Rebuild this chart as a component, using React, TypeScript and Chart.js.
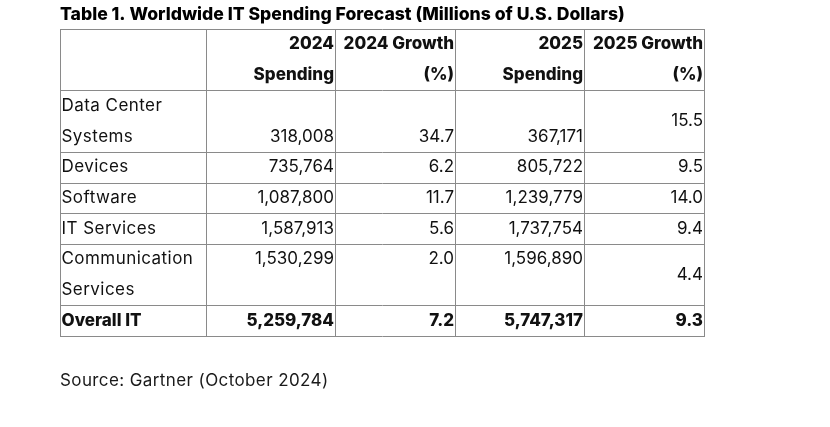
import { useEffect, useRef } from "react";
import { Chart, registerables } from "chart.js";

Chart.register(...registerables);

// ---------- data ----------
const titleText = "Table 1. Worldwide IT Spending Forecast (Millions of U.S. Dollars)";
const sourceText = "Source: Gartner (October 2024)";
const columnHeaders: string[][] = [
  ["", ""],
  ["2024", "Spending"],
  ["2024 Growth", "(%)"],
  ["2025", "Spending"],
  ["2025 Growth", "(%)"],
];
const categories: string[][] = [
  ["Data Center", "Systems"],
  ["Devices"],
  ["Software"],
  ["IT Services"],
  ["Communication", "Services"],
  ["Overall IT"],
];
const spending2024 = [318008, 735764, 1087800, 1587913, 1530299, 5259784];
const growth2024 = [34.7, 6.2, 11.7, 5.6, 2.0, 7.2];
const spending2025 = [367171, 805722, 1239779, 1737754, 1596890, 5747317];
const growth2025 = [15.5, 9.5, 14.0, 9.4, 4.4, 9.3];
const totalRowIndex = 5;

// ---------- layout / style ----------
const COL_WIDTHS = [146, 129, 120, 129, 120];
const VALUE_LINE: ("top" | "bottom")[] = ["bottom", "top", "top", "top", "top", "top"];
const FONT = "Inter, 'Noto Sans', sans-serif";
const FONT_SIZE = 17;
const BOLD_WEIGHT = 800;
const LABEL_SPACING = "0.45px";
const SOURCE_SPACING = "0.4px";
const SOURCE_OFFSET = 45;
const GRID_COLOR = "#8a8a8a";
const TEXT_COLOR = "#111111";

const fmtSpend = (v: number) => v.toLocaleString("en-US");
const fmtGrowth = (v: number) => v.toFixed(1);

const headerLines = 2;
const totalLines = headerLines + categories.reduce((s, c) => s + c.length, 0);
const totalWidth = COL_WIDTHS.reduce((s, w) => s + w, 0);
const colEdges = COL_WIDTHS.reduce<number[]>((acc, w) => [...acc, acc[acc.length - 1] + w], [0]);

const tablePlugin = {
  id: "tablePlugin",
  beforeDraw(chart: any) {
    (chart.ctx as any).letterSpacing = "0px";
  },
  afterDraw(chart: any) {
    const { ctx } = chart;
    const x = chart.scales.x;
    const y = chart.scales.y;
    ctx.save();

    const rowStarts: number[] = [0];
    let acc = headerLines;
    rowStarts.push(acc);
    categories.forEach((c) => {
      acc += c.length;
      rowStarts.push(acc);
    });

    // grid
    ctx.strokeStyle = GRID_COLOR;
    ctx.lineWidth = 1;
    const left = Math.round(x.getPixelForValue(0)) + 0.5;
    const right = Math.round(x.getPixelForValue(totalWidth)) + 0.5;
    const top = Math.round(y.getPixelForValue(0)) + 0.5;
    const bottom = Math.round(y.getPixelForValue(totalLines)) + 0.5;
    ctx.beginPath();
    rowStarts.forEach((r) => {
      const py = Math.round(y.getPixelForValue(r)) + 0.5;
      ctx.moveTo(left - 0.5, py);
      ctx.lineTo(right + 0.5, py);
    });
    colEdges.forEach((e) => {
      const px = Math.round(x.getPixelForValue(e)) + 0.5;
      ctx.moveTo(px, top);
      ctx.lineTo(px, bottom);
    });
    ctx.stroke();

    ctx.fillStyle = TEXT_COLOR;
    ctx.textBaseline = "middle";
    const lineY = (l: number) => y.getPixelForValue(l + 0.5);
    const colRight = (c: number) => x.getPixelForValue(colEdges[c + 1]) - 1;
    const colLeft = (c: number) => x.getPixelForValue(colEdges[c]) + 1.5;

    // header
    ctx.font = `${BOLD_WEIGHT} ${FONT_SIZE}px ${FONT}`;
    ctx.textAlign = "right";
    columnHeaders.forEach((lines, c) => {
      lines.forEach((t, k) => {
        if (t) ctx.fillText(t, colRight(c), lineY(k));
      });
    });

    // body
    categories.forEach((label, i) => {
      const start = rowStarts[i + 1];
      const n = label.length;
      const bold = i === totalRowIndex;
      ctx.font = `${bold ? BOLD_WEIGHT : 400} ${FONT_SIZE}px ${FONT}`;
      ctx.textAlign = "left";
      (ctx as any).letterSpacing = bold ? "0px" : LABEL_SPACING;
      label.forEach((t, k) => ctx.fillText(t, colLeft(0), lineY(start + k)));
      (ctx as any).letterSpacing = "0px";
      ctx.textAlign = "right";
      const vl = VALUE_LINE[i] === "bottom" ? start + n - 1 : start;
      ctx.fillText(fmtSpend(spending2024[i]), colRight(1), lineY(vl));
      ctx.fillText(fmtGrowth(growth2024[i]), colRight(2), lineY(vl));
      ctx.fillText(fmtSpend(spending2025[i]), colRight(3), lineY(vl));
      ctx.fillText(fmtGrowth(growth2025[i]), colRight(4), y.getPixelForValue(start + n / 2));
    });

    // source note
    ctx.font = `400 ${FONT_SIZE}px ${FONT}`;
    ctx.fillStyle = "#1a1a1a";
    ctx.textAlign = "left";
    (ctx as any).letterSpacing = SOURCE_SPACING;
    ctx.fillText(sourceText, x.getPixelForValue(0), chart.chartArea.bottom + SOURCE_OFFSET);
    (ctx as any).letterSpacing = "0px";
    ctx.restore();
  },
};

export default function App() {
  const ref = useRef<HTMLCanvasElement>(null);
  useEffect(() => {
    if (!ref.current) return;
    const chart = new Chart(ref.current, {
      type: "scatter",
      data: { datasets: [] },
      options: {
        responsive: false,
        animation: false,
        devicePixelRatio: 1,
        layout: { padding: { left: 60, right: 126, top: 0, bottom: 91 } },
        scales: {
          x: { type: "linear", min: 0, max: totalWidth, display: false },
          y: { type: "linear", min: 0, max: totalLines, reverse: true, display: false },
        },
        plugins: {
          legend: { display: false },
          tooltip: { enabled: false },
          title: {
            display: true,
            text: titleText,
            align: "start",
            color: "#000",
            font: { family: FONT, size: 17.6, weight: BOLD_WEIGHT as any, lineHeight: 1.2 },
            padding: { top: 4, bottom: 3.9 },
          },
        },
      },
      plugins: [tablePlugin],
    });
    return () => chart.destroy();
  }, []);
  return (
    <div style={{ position: "fixed", left: 0, top: 0, width: 830, height: 427, background: "#fff" }}>
      <canvas ref={ref} width={830} height={427} />
    </div>
  );
}
